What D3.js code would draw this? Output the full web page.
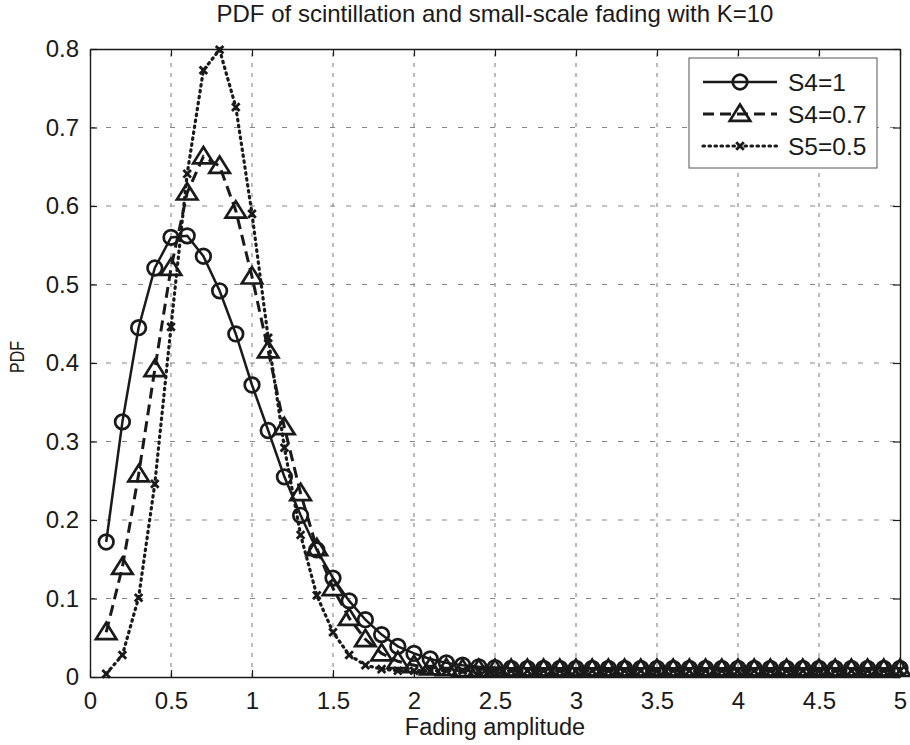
<!DOCTYPE html>
<html>
<head>
<meta charset="utf-8">
<script src="https://cdn.jsdelivr.net/npm/d3@7"></script>
<style>
  html, body { margin: 0; padding: 0; background: #fff; }
  svg { display: block; }
  text { font-family: "Liberation Sans", Arial, sans-serif; fill: #1a1a1a; }
</style>
</head>
<body>
<svg id="chart" width="910" height="745"></svg>
<script>
// Fading amplitude samples
const amplitude = [0.1,0.2,0.3,0.4,0.5,0.6,0.7,0.8,0.9,1.0,
                   1.1,1.2,1.3,1.4,1.5,1.6,1.7,1.8,1.9,2.0,
                   2.1,2.2,2.3,2.4,2.5,2.6,2.7,2.8,2.9,3.0,
                   3.1,3.2,3.3,3.4,3.5,3.6,3.7,3.8,3.9,4.0,
                   4.1,4.2,4.3,4.4,4.5,4.6,4.7,4.8,4.9,5.0];

// PDF for S4 = 1
const pdfS4_1 = [0.172,0.325,0.445,0.521,0.560,0.562,0.536,0.492,0.437,0.372,
                 0.314,0.255,0.206,0.162,0.126,0.097,0.073,0.054,0.039,0.030,
                 0.023,0.018,0.015,0.013,0.012,0.011,0.011,0.011,0.011,0.011,
                 0.011,0.011,0.011,0.011,0.011,0.011,0.011,0.011,0.011,0.011,
                 0.011,0.011,0.011,0.011,0.011,0.011,0.011,0.011,0.011,0.011];

// PDF for S4 = 0.7
const pdfS4_07 = [0.057,0.140,0.258,0.392,0.521,0.617,0.663,0.651,0.594,0.510,
                  0.416,0.318,0.234,0.164,0.113,0.075,0.048,0.030,0.020,0.015,
                  0.012,0.011,0.010,0.010,0.010,0.010,0.010,0.010,0.010,0.010,
                  0.010,0.010,0.010,0.010,0.010,0.010,0.010,0.010,0.010,0.010,
                  0.010,0.010,0.010,0.010,0.010,0.010,0.010,0.010,0.010,0.010];

// PDF for S5 = 0.5
const pdfS5_05 = [0.004,0.028,0.101,0.246,0.446,0.641,0.773,0.799,0.726,0.590,
                  0.432,0.292,0.181,0.104,0.057,0.028,0.015,0.010,0.008,0.008,
                  0.008,0.008,0.008,0.008,0.008,0.008,0.008,0.008,0.008,0.008,
                  0.008,0.008,0.008,0.008,0.008,0.008,0.008,0.008,0.008,0.008,
                  0.008,0.008,0.008,0.008,0.008,0.008,0.008,0.008,0.008,0.008];

const seriesNames = ["S4=1", "S4=0.7", "S5=0.5"];
const xTicks = [0,0.5,1,1.5,2,2.5,3,3.5,4,4.5,5];
const xTickLabels = ["0","0.5","1","1.5","2","2.5","3","3.5","4","4.5","5"];
const yTicks = [0,0.1,0.2,0.3,0.4,0.5,0.6,0.7,0.8];
const yTickLabels = ["0","0.1","0.2","0.3","0.4","0.5","0.6","0.7","0.8"];

const titleText = "PDF of scintillation and small-scale fading with K=10";
const xLabelText = "Fading amplitude";
const yLabelText = "PDF";

const svg = d3.select("#chart");
const W = 910, H = 745;
const m = { left: 90, right: 10, top: 49, bottom: 68 };
const pw = W - m.left - m.right, ph = H - m.top - m.bottom;

const x = d3.scaleLinear().domain([0, 5]).range([m.left, m.left + pw]);
const y = d3.scaleLinear().domain([0, 0.8]).range([m.top + ph, m.top]);

const ink = "#1a1a1a";

// grid
const grid = svg.append("g").attr("stroke", "#555").attr("stroke-width", 1.1)
  .attr("opacity", 0.7);
grid.selectAll("line.gx").data(xTicks.slice(1, -1)).join("line")
  .attr("stroke-dasharray", "4,6")
  .attr("x1", d => x(d)).attr("x2", d => x(d))
  .attr("y1", y(0)).attr("y2", y(0.8));
grid.selectAll("line.gy").data(yTicks.slice(1, -1)).join("line")
  .attr("stroke-dasharray", "5,11")
  .attr("x1", x(0)).attr("x2", x(5))
  .attr("y1", d => y(d)).attr("y2", d => y(d));

// axes with inward ticks
const tickLen = 7;
const fmtX = (d, i) => xTickLabels[i];
const fmtY = (d, i) => yTickLabels[i];
const axB = svg.append("g").attr("transform", `translate(0,${y(0)})`)
  .call(d3.axisBottom(x).tickValues(xTicks).tickFormat(fmtX).tickSizeInner(-tickLen).tickSizeOuter(0).tickPadding(15));
const axT = svg.append("g").attr("transform", `translate(0,${y(0.8)})`)
  .call(d3.axisTop(x).tickValues(xTicks).tickFormat("").tickSizeInner(-tickLen).tickSizeOuter(0));
const axL = svg.append("g").attr("transform", `translate(${x(0)},0)`)
  .call(d3.axisLeft(y).tickValues(yTicks).tickFormat(fmtY).tickSizeInner(-tickLen).tickSizeOuter(0).tickPadding(11));
const axR = svg.append("g").attr("transform", `translate(${x(5)},0)`)
  .call(d3.axisRight(y).tickValues(yTicks).tickFormat("").tickSizeInner(-tickLen).tickSizeOuter(0));
[axB, axT, axL, axR].forEach(g => {
  g.select(".domain").attr("stroke", ink).attr("stroke-width", 1.4);
  g.selectAll(".tick line").attr("stroke", ink).attr("stroke-width", 1.2);
  g.selectAll("text").attr("font-size", 24).attr("fill", ink)
    .style("font-family", "'Liberation Sans', Arial, sans-serif");
});
axB.selectAll("text").attr("dy", "0.71em");

// series definitions
const series = [
  { name: seriesNames[0], values: pdfS4_1, dash: null, width: 2.5, marker: "circle" },
  { name: seriesNames[1], values: pdfS4_07, dash: "11,6", width: 3, marker: "triangle" },
  { name: seriesNames[2], values: pdfS5_05, dash: "1.5,4.5", width: 3.2, marker: "cross" }
];

const line = d3.line().x(d => x(d[0])).y(d => y(d[1]));

function drawMarker(g, type, cx, cy) {
  if (type === "circle") {
    g.append("circle").attr("cx", cx).attr("cy", cy).attr("r", 7.3)
      .attr("fill", "none").attr("stroke", ink).attr("stroke-width", 2.7);
  } else if (type === "triangle") {
    const s = 9.5;
    g.append("path")
      .attr("d", `M${cx},${cy - s}L${cx + s * 1.08},${cy + s * 0.72}L${cx - s * 1.08},${cy + s * 0.72}Z`)
      .attr("fill", "none").attr("stroke", ink).attr("stroke-width", 2.7)
      .attr("stroke-linejoin", "miter");
  } else {
    const s = 3.8;
    g.append("path")
      .attr("d", `M${cx - s},${cy - s}L${cx + s},${cy + s}M${cx - s},${cy + s}L${cx + s},${cy - s}`)
      .attr("stroke", ink).attr("stroke-width", 2.8);
  }
}

const plot = svg.append("g");
series.forEach(s => {
  const pts = amplitude.map((a, i) => [a, s.values[i]]);
  plot.append("path").datum(pts).attr("d", line)
    .attr("fill", "none").attr("stroke", ink).attr("stroke-width", s.width)
    .attr("stroke-dasharray", s.dash).attr("stroke-linecap", s.marker === "cross" ? "round" : "butt");
  const mg = plot.append("g");
  pts.forEach(p => drawMarker(mg, s.marker, x(p[0]), y(p[1])));
});

// legend
const lg = svg.append("g");
const lx = 689, ly = 58, lw = 188, lh = 110;
lg.append("rect").attr("x", lx).attr("y", ly).attr("width", lw).attr("height", lh)
  .attr("fill", "#fff").attr("stroke", "#555").attr("stroke-width", 1);
series.forEach((s, i) => {
  const cy = ly + 24 + i * 32;
  lg.append("line").attr("x1", lx + 14).attr("x2", lx + 88).attr("y1", cy).attr("y2", cy)
    .attr("stroke", ink).attr("stroke-width", s.width).attr("stroke-dasharray", s.dash)
    .attr("stroke-linecap", s.marker === "cross" ? "round" : "butt");
  drawMarker(lg, s.marker, lx + 51, cy);
  lg.append("text").attr("x", lx + 99).attr("y", cy).attr("dy", "0.36em")
    .attr("font-size", 24.5).attr("fill", ink).text(s.name);
});

// titles
svg.append("text").attr("x", 495).attr("y", 22).attr("text-anchor", "middle")
  .attr("font-size", 24).attr("fill", ink).text(titleText);
svg.append("text").attr("x", 495).attr("y", 735).attr("text-anchor", "middle")
  .attr("font-size", 23.5).attr("fill", ink).text(xLabelText);
svg.append("text").attr("transform", "translate(24,357) rotate(-90)")
  .attr("text-anchor", "middle").attr("font-size", 21)
  .attr("textLength", 32).attr("lengthAdjust", "spacingAndGlyphs")
  .attr("fill", ink).text(yLabelText);
</script>
</body>
</html>
